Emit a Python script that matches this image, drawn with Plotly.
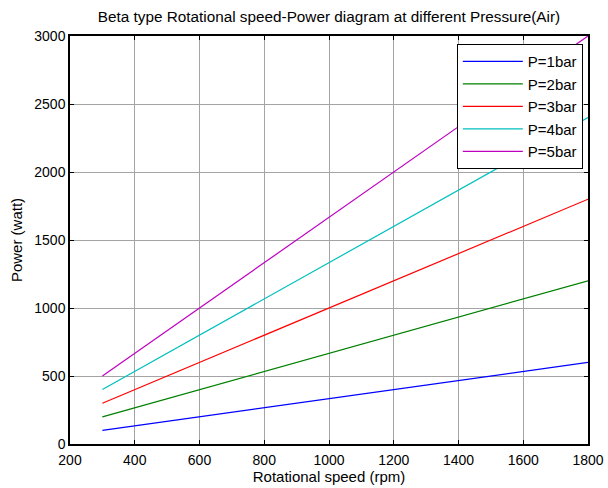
import plotly.graph_objects as go

rpm = [300, 600, 900, 1200, 1500, 1800]
p1 = [100, 200, 300, 400, 500, 600]
p2 = [200, 400, 600, 800, 1000, 1200]
p3 = [300, 600, 900, 1200, 1500, 1800]
p4 = [400, 800, 1200, 1600, 2000, 2400]
p5 = [500, 1000, 1500, 2000, 2500, 3000]
names = ["P=1bar", "P=2bar", "P=3bar", "P=4bar", "P=5bar"]
colors = ["#0000ff", "#008000", "#ff0000", "#00bfbf", "#bf00bf"]
series = [p1, p2, p3, p4, p5]

fig = go.Figure()
for n, c, s in zip(names, colors, series):
    fig.add_trace(go.Scatter(x=rpm, y=s, mode="lines", name=n,
                             line=dict(color=c, width=1.2)))

font = "Liberation Sans, Arial, sans-serif"
axis_common = dict(showline=True, linecolor="black", linewidth=1.5, mirror="ticks",
                   ticks="inside", ticklen=4, tickcolor="black", automargin=False,
                   showgrid=True, gridcolor="#a4a4a4", gridwidth=1,
                   zeroline=False, tickfont=dict(size=14, color="black", family=font))
fig.update_xaxes(range=[200, 1800], dtick=200, ticklabelstandoff=2,
                 title=dict(text="Rotational speed (rpm)", font=dict(size=15, color="black", family=font), standoff=2),
                 **axis_common)
fig.update_yaxes(range=[0, 3000], dtick=500,
                 title=dict(text="Power (watt)", font=dict(size=15, color="black", family=font), standoff=8),
                 **axis_common)

fig.update_layout(
    width=608, height=488,
    margin=dict(l=70, r=20, t=36, b=44),
    paper_bgcolor="white", plot_bgcolor="white",
    title=dict(text="Beta type Rotational speed-Power diagram at different Pressure(Air)",
               x=0.5, xref="paper", xanchor="center", y=0.965, yanchor="middle",
               font=dict(size=15.3, color="black", family=font)),
    legend=dict(x=0.99, xanchor="right", y=0.98, yanchor="top",
                bgcolor="white", bordercolor="black", borderwidth=1,
                font=dict(size=15, color="black", family=font),
                tracegroupgap=0, itemwidth=60),
    showlegend=True,
)
fig.write_html("out.html", config={"displayModeBar": False},
               post_script="document.body.style.margin='0';")
